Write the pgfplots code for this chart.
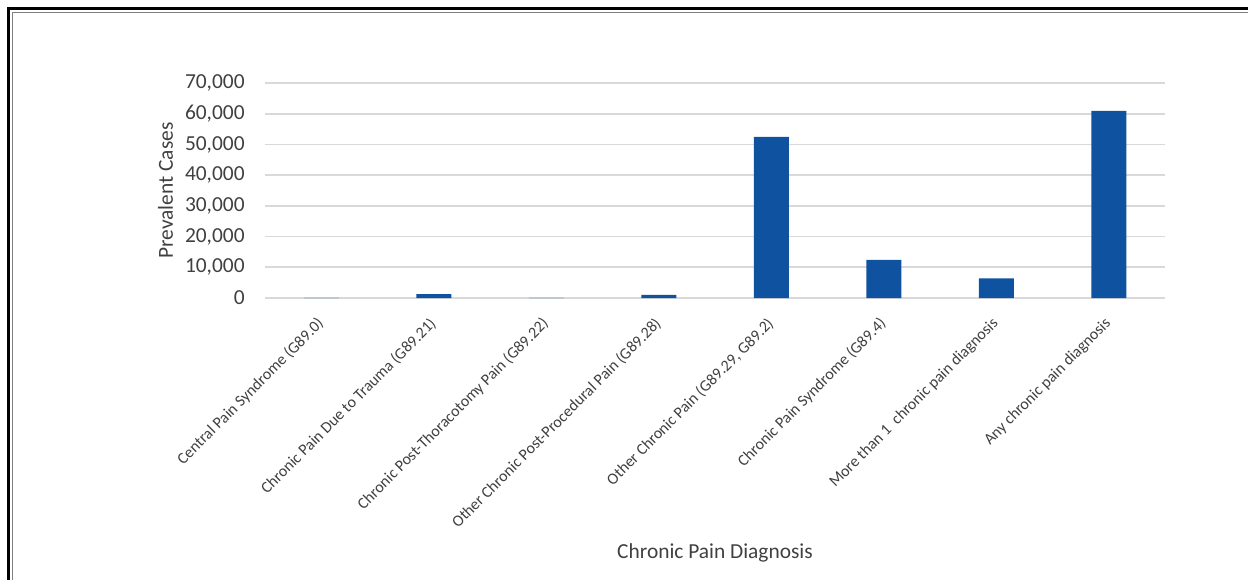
\documentclass[border=0pt]{standalone}
\usepackage{pgfplots}
\pgfplotsset{compat=1.18}
\usepackage{fontspec}
\setmainfont{Carlito}
\definecolor{barblue}{HTML}{0F52A0}
\definecolor{txtgray}{HTML}{404040}
\definecolor{gridgray}{HTML}{D9D9D9}

\pgfplotstableread{
idx cases
0   40
1   1300
2   20
3   1000
4   52500
5   12400
6   6400
7   60900
}\paintable

\begin{document}
\begin{tikzpicture}
\useasboundingbox (0,0) rectangle (624pt,289.5pt);
% page frame
\draw[black, line width=1.35pt] (4.3pt,-2pt) -- (4.3pt,285.2pt) -- (626pt,285.2pt);
\draw[gray, line width=0.75pt] (6.25pt,-2pt) -- (6.25pt,283.25pt) -- (626pt,283.25pt);

\begin{axis}[
  at={(132.5pt,140.5pt)}, anchor=south west,
  scale only axis, width=450pt, height=107.5pt,
  xmin=-0.5, xmax=7.5, ymin=0, ymax=70000,
  axis line style={draw=none},
  major tick length=0pt,
  ybar, bar width=17.5pt,
  ytick={0,10000,...,70000},
  ymajorgrids, grid style={gridgray, line width=0.8pt},
  scaled y ticks=false,
  yticklabel style={
    /pgf/number format/fixed,
    /pgf/number format/1000 sep={,},
    /pgf/number format/assume math mode=true,
    font=\fontsize{10.7}{12}\selectfont, text=txtgray,
    anchor=east, inner sep=0pt, xshift=-10pt},
  xtick=data,
  xticklabels={
    Central Pain Syndrome (G89.0),
    Chronic Pain Due to Trauma (G89.21),
    Chronic Post-Thoracotomy Pain (G89.22),
    Other Chronic Post-Procedural Pain (G89.28),
    {Other Chronic Pain (G89.29, G89.2)},
    Chronic Pain Syndrome (G89.4),
    More than 1\ \ chronic pain diagnosis,
    Any chronic pain diagnosis},
  xticklabel style={
    font=\fontsize{8}{9}\selectfont, text=txtgray,
    yshift=-11.5pt, rotate=45, anchor=east, inner sep=0pt},
  ylabel={Prevalent Cases},
  ylabel shift=2.5pt,
  ylabel style={font=\fontsize{10.7}{12}\selectfont, text=txtgray},
  xlabel={Chronic Pain Diagnosis},
  xlabel style={font=\fontsize{10.7}{12}\selectfont, text=txtgray, yshift=-3.5pt},
]
\addplot[fill=barblue, draw=none] table[x=idx, y=cases] {\paintable};
\end{axis}
\end{tikzpicture}
\end{document}
